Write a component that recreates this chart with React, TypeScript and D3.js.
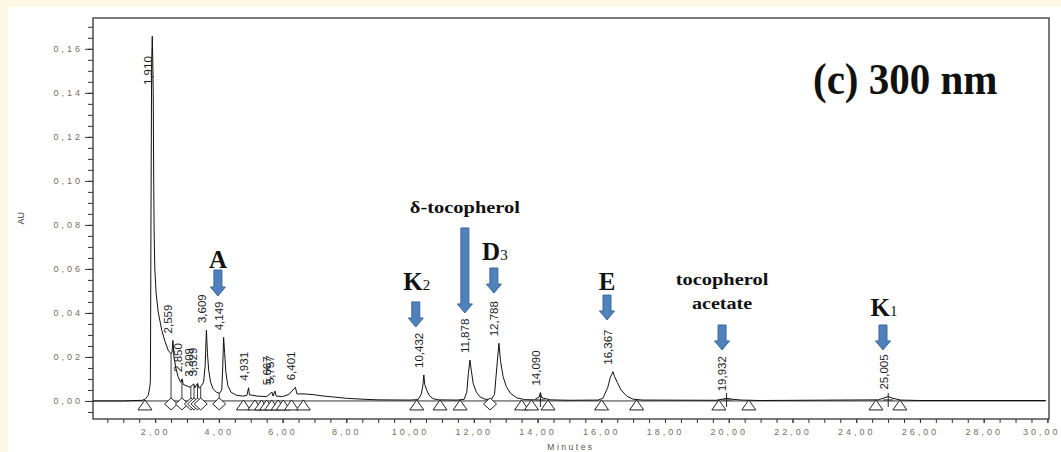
import React, { useRef, useEffect } from 'react';
import * as d3 from 'd3';

// chromatogram trace (minutes, AU)
const traceTime = [
  0.05, 1.0, 1.6, 1.7, 1.78, 1.83, 1.85, 1.86, 1.87, 1.88, 1.89, 1.91, 1.925, 1.94, 1.955, 1.97, 1.99,
  2.03, 2.1, 2.21, 2.31, 2.41, 2.49, 2.53, 2.559, 2.59, 2.65, 2.72, 2.8, 2.85, 2.88, 3.0, 3.1,
  3.209, 3.25, 3.329, 3.38, 3.45, 3.52, 3.57, 3.609, 3.64, 3.68, 3.74, 3.82, 3.92, 4.02, 4.09,
  4.12, 4.149, 4.18, 4.22, 4.28, 4.38, 4.55, 4.75, 4.88, 4.931, 4.96, 5.2, 5.5, 5.667, 5.7,
  5.757, 5.8, 6.0, 6.2, 6.401, 6.45, 6.7, 7.0, 7.3, 7.6, 8.0, 8.5, 9.0, 10.0, 10.25, 10.35,
  10.4, 10.432, 10.46, 10.52, 10.6, 10.72, 10.9, 11.5, 11.7, 11.78, 11.83, 11.878, 11.92, 11.98,
  12.08, 12.2, 12.35, 12.55, 12.65, 12.72, 12.788, 12.84, 12.92, 13.02, 13.15, 13.35, 13.6, 13.9,
  14.05, 14.09, 14.13, 14.4, 15.0, 15.9, 16.05, 16.2, 16.28, 16.367, 16.42, 16.5, 16.62, 16.8,
  17.0, 17.3, 19.6, 19.8, 19.932, 20.1, 20.4, 21.0, 24.7, 24.9, 25.005, 25.15, 25.4, 26.0, 29.95,
];
const traceAU = [
  0, 0, 0.0003, 0.001, 0.0025, 0.006, 0.009, 0.04, 0.085, 0.12, 0.153, 0.1657, 0.155, 0.14, 0.1, 0.075, 0.06,
  0.049, 0.04, 0.032, 0.027, 0.023, 0.0215, 0.022, 0.0275, 0.02, 0.015, 0.011, 0.0085, 0.01, 0.0075, 0.0068, 0.0062,
  0.0078, 0.006, 0.008, 0.0058, 0.0068, 0.0085, 0.016, 0.0322, 0.022, 0.014, 0.0085, 0.0055, 0.004, 0.0035, 0.005,
  0.015, 0.0289, 0.022, 0.013, 0.007, 0.004, 0.0026, 0.0022, 0.0025, 0.006, 0.0028, 0.0022, 0.002, 0.004, 0.0022,
  0.0045, 0.0022, 0.002, 0.003, 0.0062, 0.0032, 0.0032, 0.0028, 0.0022, 0.0018, 0.0012, 0.0008, 0.0005, 0.0004, 0.0006, 0.003,
  0.0068, 0.0118, 0.0075, 0.005, 0.0025, 0.001, 0.0005, 0.0004, 0.0008, 0.004, 0.0125, 0.0186, 0.014, 0.008,
  0.004, 0.0018, 0.0008, 0.0006, 0.003, 0.015, 0.0262, 0.018, 0.011, 0.0065, 0.0035, 0.0014, 0.0006, 0.0005,
  0.0018, 0.0038, 0.0015, 0.0005, 0.0003, 0.0004, 0.0012, 0.006, 0.0105, 0.0133, 0.011, 0.0085, 0.005, 0.0022,
  0.0008, 0.0004, 0.0003, 0.0008, 0.0012, 0.0008, 0.0004, 0.0002, 0.0005, 0.0015, 0.002, 0.0012, 0.0004, 0.0002, 0.0002,
];

// retention times printed above the peaks
const peakTimes = [
  1.91, 2.559, 2.85, 3.209, 3.329, 3.609, 4.149, 4.931, 5.667, 5.757, 6.401,
  10.432, 11.878, 12.788, 14.09, 16.367, 19.932, 25.005,
];
// integration markers
const triangleTimes = [
  1.68, 4.77, 5.13, 5.34, 5.5, 5.66, 5.86, 6.02, 6.28, 6.65,
  10.21, 10.94, 11.57, 13.5, 13.81, 14.33, 16.01, 17.11, 19.69, 20.63, 24.62, 25.37,
];
const diamondTimes = [2.5, 2.84, 3.12, 3.22, 3.33, 3.43, 4.01, 12.51];
const crossTimes = [14.09, 19.932, 25.005];

const xTicks = [2, 4, 6, 8, 10, 12, 14, 16, 18, 20, 22, 24, 26, 28, 30];
const yTicks = [0, 0.02, 0.04, 0.06, 0.08, 0.1, 0.12, 0.14, 0.16];

// compound annotations
const annoText = ['A', 'K', 'δ-tocopherol', 'D', 'E', 'tocopherol', 'K'];
const annoSub = ['', '2', '', '3', '', '', '1'];
const annoLine2 = ['', '', '', '', '', 'acetate', ''];
const annoTime = [3.97, 10.18, 11.72, 12.63, 16.18, 19.79, 24.84];
const annoTextAU = [0.0604, 0.0504, 0.0854, 0.064, 0.0504, 0.0527, 0.0386];
const arrowTopAU = [0.0595, 0.045, 0.0786, 0.0604, 0.0481, 0.0345, 0.0345];
const arrowTipAU = [0.0477, 0.0336, 0.04, 0.049, 0.0368, 0.0232, 0.0232];

const comma = (v: number, digits: number) => v.toFixed(digits).replace('.', ',');

const Chromatogram: React.FC = () => {
  const ref = useRef<SVGSVGElement | null>(null);

  useEffect(() => {
    if (!ref.current) return;
    const svg = d3.select(ref.current);
    svg.selectAll('*').remove();

    const width = 1061;
    const height = 452;
    const frame = { left: 93, right: 1049, top: 18, bottom: 419 };

    const x = d3.scaleLinear().domain([0.05, 30.05]).range([frame.left, frame.right]);
    const y = d3.scaleLinear().domain([-0.0082, 0.174]).range([frame.bottom, frame.top]);

    const tickColor = '#7a6a5c';
    const serif = '"Liberation Serif", "Times New Roman", serif';
    const sans = 'Arial, "Liberation Sans", sans-serif';

    // backgrounds
    svg.append('rect').attr('width', width).attr('height', height).attr('fill', '#fcf8e4');
    svg.append('rect').attr('x', 8).attr('y', 7).attr('width', width - 8).attr('height', height - 7).attr('fill', '#ffffff');

    // y axis: minor then major ticks
    const yMinor = d3.range(-0.005, 0.1726, 0.005);
    svg.append('g')
      .attr('transform', `translate(${frame.left},0)`)
      .call(d3.axisLeft(y).tickValues(yMinor).tickSize(5).tickFormat(() => ''))
      .call(g => g.select('.domain').remove())
      .call(g => g.selectAll('line').attr('stroke', '#333'));

    svg.append('g')
      .attr('transform', `translate(${frame.left},0)`)
      .call(d3.axisLeft(y).tickValues(yTicks).tickSize(8).tickPadding(2).tickFormat(d => comma(+d, 2)))
      .call(g => g.select('.domain').remove())
      .call(g => g.selectAll('line').attr('stroke', '#333'))
      .call(g => g.selectAll('text')
        .attr('fill', tickColor)
        .style('font-family', sans)
        .style('font-size', '9px')
        .style('letter-spacing', '3px'));

    // x axis
    const xMinor = d3.range(0.5, 30.01, 0.5);
    svg.append('g')
      .attr('transform', `translate(0,${frame.bottom})`)
      .call(d3.axisBottom(x).tickValues(xMinor).tickSize(4).tickFormat(() => ''))
      .call(g => g.select('.domain').remove())
      .call(g => g.selectAll('line').attr('stroke', '#333'));

    svg.append('g')
      .attr('transform', `translate(0,${frame.bottom})`)
      .call(d3.axisBottom(x).tickValues(xTicks).tickSize(4).tickPadding(6).tickFormat(d => comma(+d, 2)))
      .call(g => g.select('.domain').remove())
      .call(g => g.selectAll('line').attr('stroke', '#333'))
      .call(g => g.selectAll('text')
        .attr('fill', tickColor)
        .style('font-family', sans)
        .style('font-size', '9px')
        .style('letter-spacing', '3px'))
      // keep the last label inside the picture
      .call(g => g.selectAll<SVGTextElement, number>('text')
        .filter(d => d === 30)
        .attr('text-anchor', 'end')
        .attr('x', width - x(30) - 1));

    // axis titles
    svg.append('text')
      .attr('x', (frame.left + frame.right) / 2)
      .attr('y', 450)
      .attr('text-anchor', 'middle')
      .attr('fill', '#555')
      .style('font-family', sans)
      .style('font-size', '8.5px')
      .style('letter-spacing', '2.5px')
      .text('Minutes');

    svg.append('text')
      .attr('transform', `translate(24,${y(0.083)}) rotate(-90)`)
      .attr('text-anchor', 'middle')
      .attr('fill', '#333')
      .style('font-family', sans)
      .style('font-size', '9px')
      .text('AU');

    // frame
    svg.append('rect')
      .attr('x', frame.left).attr('y', frame.top)
      .attr('width', frame.right - frame.left).attr('height', frame.bottom - frame.top)
      .attr('fill', 'none').attr('stroke', '#333').attr('stroke-width', 1.3);

    // baseline at zero
    svg.append('line')
      .attr('x1', x(0.05)).attr('x2', x(29.95))
      .attr('y1', y(0)).attr('y2', y(0))
      .attr('stroke', '#333').attr('stroke-width', 1);

    const points = traceTime.map((t, i) => [t, traceAU[i]] as [number, number]);
    const traceAt = (t: number) => {
      const i = d3.bisector((p: [number, number]) => p[0]).left(points, t);
      if (i <= 0) return points[0][1];
      if (i >= points.length) return points[points.length - 1][1];
      const [t0, v0] = points[i - 1];
      const [t1, v1] = points[i];
      return v0 + ((t - t0) / (t1 - t0)) * (v1 - v0);
    };

    // drop lines
    svg.append('g').selectAll('line')
      .data(diamondTimes)
      .enter()
      .append('line')
      .attr('x1', d => x(d)).attr('x2', d => x(d))
      .attr('y1', d => y(traceAt(d))).attr('y2', y(0))
      .attr('stroke', '#222').attr('stroke-width', 0.9);

    // trace
    const line = d3.line<[number, number]>().x(d => x(d[0])).y(d => y(d[1]));
    svg.append('path')
      .datum(points)
      .attr('d', line)
      .attr('fill', 'none')
      .attr('stroke', '#111')
      .attr('stroke-width', 1)
      .attr('stroke-linejoin', 'round');

    // markers
    const y0 = y(0);
    svg.append('g').selectAll('path')
      .data(triangleTimes)
      .enter()
      .append('path')
      .attr('d', d => `M${x(d)},${y0 - 1} L${x(d) + 7},${y0 + 9} L${x(d) - 7},${y0 + 9} Z`)
      .attr('fill', '#fff').attr('stroke', '#222').attr('stroke-width', 1);

    svg.append('g').selectAll('path')
      .data(diamondTimes)
      .enter()
      .append('path')
      .attr('d', d => `M${x(d)},${y0 - 3} L${x(d) + 6.5},${y0 + 3} L${x(d)},${y0 + 9} L${x(d) - 6.5},${y0 + 3} Z`)
      .attr('fill', '#fff').attr('stroke', '#222').attr('stroke-width', 1);

    svg.append('g').selectAll('path')
      .data(crossTimes)
      .enter()
      .append('path')
      .attr('d', d => `M${x(d)},${y0 - 8} V${y0 + 6} M${x(d) - 5},${y0 - 1} H${x(d) + 5}`)
      .attr('stroke', '#222').attr('stroke-width', 1);

    // retention time labels
    svg.append('g').selectAll('text')
      .data(peakTimes)
      .enter()
      .append('text')
      .attr('transform', d => `translate(${x(d) - 0.5},${Math.max(y(traceAt(d)) - 7, frame.top + 67)}) rotate(-90)`)
      .attr('fill', '#1c1c28')
      .style('font-family', sans)
      .style('font-size', '11.5px')
      .text(d => comma(d, 3));

    // arrows
    svg.append('g').selectAll('path')
      .data(annoTime)
      .enter()
      .append('path')
      .attr('d', (d, i) => {
        const cx = x(d);
        const top = y(arrowTopAU[i]);
        const tip = y(arrowTipAU[i]);
        const neck = tip - 9;
        return `M${cx - 4},${top} H${cx + 4} V${neck} H${cx + 7.5} L${cx},${tip} L${cx - 7.5},${neck} H${cx - 4} Z`;
      })
      .attr('fill', '#4f81bd')
      .attr('stroke', '#3b6798')
      .attr('stroke-width', 1);

    // annotation text
    annoText.forEach((txt, i) => {
      const cx = x(annoTime[i]);
      const ty = y(annoTextAU[i]);
      const big = txt.length <= 1;
      const t = svg.append('text')
        .attr('text-anchor', 'middle')
        .attr('fill', '#111')
        .style('font-family', serif)
        .style('font-weight', 'bold');
      if (big) {
        t.attr('x', cx + (annoSub[i] ? 1 : 0)).attr('y', ty).style('font-size', '25px');
        t.append('tspan').text(txt);
        if (annoSub[i]) t.append('tspan').style('font-size', '15px').style('font-weight', 'normal').text(annoSub[i]);
      } else {
        t.attr('transform', `translate(${cx},${ty}) scale(1.24,1)`).style('font-size', '16.5px').text(txt);
        if (annoLine2[i]) {
          svg.append('text')
            .attr('text-anchor', 'middle')
            .attr('transform', `translate(${cx},${ty + 24}) scale(1.22,1)`)
            .attr('fill', '#111')
            .style('font-family', serif)
            .style('font-weight', 'bold')
            .style('font-size', '16.5px')
            .text(annoLine2[i]);
        }
      }
    });

    // panel title
    svg.append('text')
      .attr('x', 813)
      .attr('y', 95)
      .attr('transform', 'translate(0,-10) scale(1,1.1)')
      .attr('fill', '#111')
      .style('font-family', serif)
      .style('font-weight', 'bold')
      .style('font-size', '41px')
      .text('(c) 300 nm');
  }, []);

  return <svg ref={ref} width={1061} height={452} style={{ position: 'absolute', left: 0, top: 0 }}></svg>;
};

export default function App() {
  return <Chromatogram />;
}
